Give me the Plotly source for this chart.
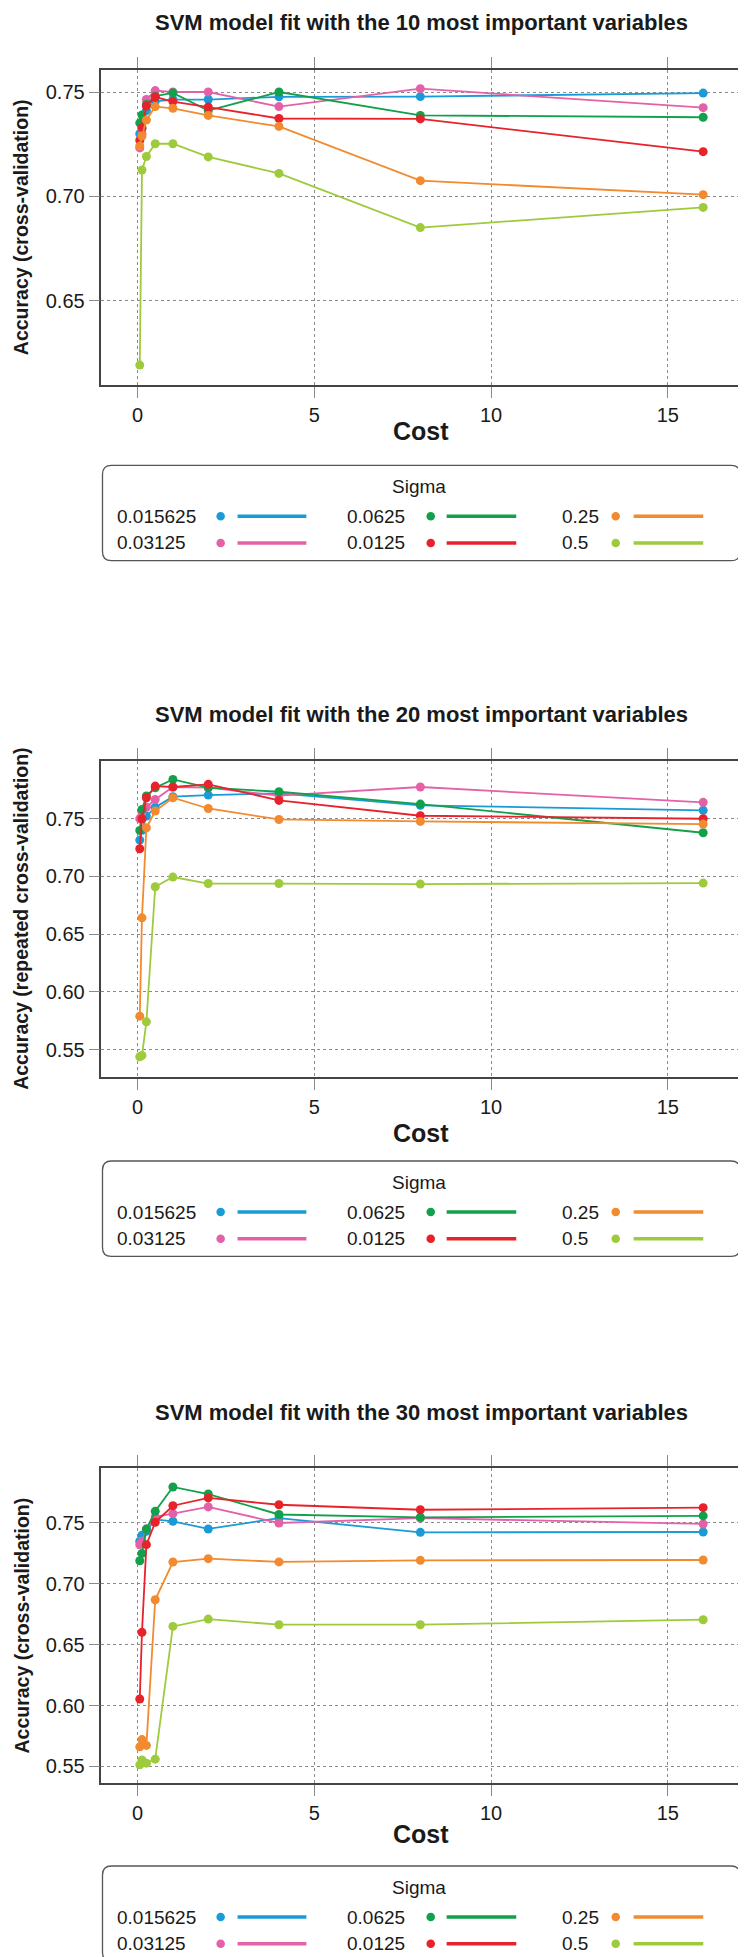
import plotly.graph_objects as go

# ---------------- data ----------------
cost = [0.0625, 0.125, 0.25, 0.5, 1, 2, 4, 8, 16]
sigma_labels = ["0.015625", "0.03125", "0.0625", "0.0125", "0.25", "0.5"]
colors = ["#1A9BD7", "#E461A8", "#13A04B", "#E8222B", "#F28A30", "#9DCB3C"]

titles = [
    "SVM model fit with the 10 most important variables",
    "SVM model fit with the 20 most important variables",
    "SVM model fit with the 30 most important variables",
]
ylabels = [
    "Accuracy (cross-validation)",
    "Accuracy (repeated cross-validation)",
    "Accuracy (cross-validation)",
]
xlabel = "Cost"
legend_title = "Sigma"

x_ticks = [0, 5, 10, 15]
y_ticks_1 = [0.65, 0.70, 0.75]
y_ticks_2 = [0.55, 0.60, 0.65, 0.70, 0.75]
y_ticks_3 = [0.55, 0.60, 0.65, 0.70, 0.75]

# accuracy, 10 variables
acc10_s015625 = [0.7300, 0.7325, 0.7411, 0.7455, 0.7464, 0.7464, 0.7477, 0.7478, 0.7495]
acc10_s03125 = [0.7232, 0.7300, 0.7464, 0.7507, 0.7500, 0.7500, 0.7430, 0.7516, 0.7425]
acc10_s0625 = [0.7352, 0.7390, 0.7440, 0.7480, 0.7496, 0.7411, 0.7500, 0.7388, 0.7379]
acc10_s0125 = [0.7268, 0.7329, 0.7433, 0.7476, 0.7454, 0.7428, 0.7373, 0.7371, 0.7214]
acc10_s25 = [0.7241, 0.7289, 0.7366, 0.7430, 0.7422, 0.7388, 0.7335, 0.7075, 0.7008]
acc10_s5 = [0.6191, 0.7126, 0.7191, 0.7252, 0.7252, 0.7189, 0.7110, 0.6850, 0.6947]

# accuracy, 20 variables
acc20_s015625 = [0.7315, 0.7400, 0.7523, 0.7600, 0.7691, 0.7705, 0.7720, 0.7616, 0.7573]
acc20_s03125 = [0.7500, 0.7550, 0.7600, 0.7667, 0.7775, 0.7769, 0.7700, 0.7775, 0.7642]
acc20_s0625 = [0.7399, 0.7581, 0.7697, 0.7769, 0.7841, 0.7769, 0.7734, 0.7627, 0.7379]
acc20_s0125 = [0.7240, 0.7500, 0.7682, 0.7783, 0.7775, 0.7798, 0.7659, 0.7526, 0.7500]
acc20_s25 = [0.5790, 0.6642, 0.7422, 0.7567, 0.7682, 0.7589, 0.7494, 0.7477, 0.7454]
acc20_s5 = [0.5438, 0.5450, 0.5741, 0.6911, 0.6995, 0.6939, 0.6939, 0.6934, 0.6943]

# accuracy, 30 variables
acc30_s015625 = [0.7350, 0.7400, 0.7432, 0.7530, 0.7514, 0.7451, 0.7540, 0.7423, 0.7426]
acc30_s03125 = [0.7322, 0.7350, 0.7450, 0.7550, 0.7577, 0.7632, 0.7500, 0.7540, 0.7492]
acc30_s0625 = [0.7190, 0.7250, 0.7450, 0.7596, 0.7796, 0.7738, 0.7570, 0.7547, 0.7558]
acc30_s0125 = [0.6053, 0.6601, 0.7322, 0.7506, 0.7642, 0.7706, 0.7650, 0.7609, 0.7626]
acc30_s25 = [0.5660, 0.5720, 0.5672, 0.6869, 0.7179, 0.7207, 0.7180, 0.7193, 0.7196]
acc30_s5 = [0.5512, 0.5553, 0.5526, 0.5559, 0.6650, 0.6710, 0.6664, 0.6664, 0.6705]

panels = [
    [acc10_s015625, acc10_s03125, acc10_s0625, acc10_s0125, acc10_s25, acc10_s5],
    [acc20_s015625, acc20_s03125, acc20_s0625, acc20_s0125, acc20_s25, acc20_s5],
    [acc30_s015625, acc30_s03125, acc30_s0625, acc30_s0125, acc30_s25, acc30_s5],
]
y_ticks = [y_ticks_1, y_ticks_2, y_ticks_3]

# ---------------- layout geometry (pixels) ----------------
W, H = 746, 1957
FONT = "Liberation Sans, Arial, Helvetica, sans-serif"
TXT = "#1a1a1a"
GRID = "#8a8a8a"

def px(x):
    return x / W

def py(y):
    return 1 - y / H

box_left, box_right = 94, 737.3
box_tb = [(61.7, 376.7), (752.7, 1069.0), (1460.0, 1775.0)]
y_ranges = [(0.6097, 0.7607), (0.5263, 0.8003), (0.5363, 0.7952)]
x_range = (-1.02, 17.08)
title_y = [10.0, 706.0, 1404.0]
cost_y = [423.0, 1124.7, 1826.3]
legend_top = [457.3, 1153.0, 1858.0]

fig = go.Figure()

for k in range(3):
    ax = "" if k == 0 else str(k + 1)
    for s in range(6):
        fig.add_trace(go.Scatter(
            x=cost, y=panels[k][s], mode="lines+markers",
            xaxis="x" + ax, yaxis="y" + ax,
            line=dict(color=colors[s], width=1.8),
            marker=dict(color=colors[s], size=9),
            showlegend=False, hoverinfo="skip",
        ))

axis_common = dict(
    showline=True, linecolor="#444444", linewidth=1.6, mirror="allticks",
    ticks="outside", ticklen=11, tickcolor=GRID, tickwidth=1,
    showgrid=True, gridcolor=GRID, gridwidth=1, griddash="3px,3px",
    zeroline=False, tickfont=dict(family=FONT, size=20, color=TXT),
)

layout = dict(
    width=W, height=H, margin=dict(l=0, r=0, t=0, b=0),
    paper_bgcolor="white", plot_bgcolor="white", showlegend=False,
)
for k in range(3):
    ax = "" if k == 0 else str(k + 1)
    top, bot = box_tb[k]
    layout["xaxis" + ax] = dict(
        axis_common, domain=[px(box_left), px(box_right)], range=list(x_range),
        tickvals=x_ticks, ticktext=[str(v) for v in x_ticks],
        anchor="y" + ax,
    )
    layout["yaxis" + ax] = dict(
        axis_common, domain=[py(bot), py(top)], range=list(y_ranges[k]),
        tickvals=y_ticks[k], ticktext=["%.2f" % v for v in y_ticks[k]],
        anchor="x" + ax,
    )
fig.update_layout(**layout)

annotations = []
shapes = []
for k in range(3):
    top, bot = box_tb[k]
    cx = (box_left + box_right) / 2
    if k == 0:
        annotations.append(dict(
            text="<b>%s</b>" % titles[k], x=px(cx), y=1.0,
            xref="paper", yref="paper", xanchor="center", yanchor="top",
            showarrow=False, font=dict(family=FONT, size=22, color=TXT)))
    else:
        annotations.append(dict(
            text="<b>%s</b>" % titles[k], x=px(cx), y=py(title_y[k]),
            xref="paper", yref="paper", xanchor="center", yanchor="middle",
            showarrow=False, font=dict(family=FONT, size=22, color=TXT)))
    annotations.append(dict(
        text="<b>%s</b>" % xlabel, x=px(cx), y=py(cost_y[k]),
        xref="paper", yref="paper", xanchor="center", yanchor="middle",
        showarrow=False, font=dict(family=FONT, size=25, color=TXT)))
    annotations.append(dict(
        text="<b>%s</b>" % ylabels[k], x=0.0, y=py((top + bot) / 2),
        xref="paper", yref="paper", xanchor="left", yanchor="middle",
        textangle=-90, showarrow=False,
        font=dict(family=FONT, size=19.5, color=TXT)))

    # legend box
    T = legend_top[k]
    L, R, B = 95, 736, T + 95.4
    r = 9
    path = ("M %f,%f L %f,%f Q %f,%f %f,%f L %f,%f Q %f,%f %f,%f "
            "L %f,%f Q %f,%f %f,%f L %f,%f Q %f,%f %f,%f Z") % (
        px(L + r), py(T), px(R - r), py(T), px(R), py(T), px(R), py(T + r),
        px(R), py(B - r), px(R), py(B), px(R - r), py(B),
        px(L + r), py(B), px(L), py(B), px(L), py(B - r),
        px(L), py(T + r), px(L), py(T), px(L + r), py(T))
    shapes.append(dict(type="path", path=path, xref="paper", yref="paper",
                       line=dict(color="#555555", width=1.3)))
    annotations.append(dict(
        text=legend_title, x=px(413.5), y=py(T + 21),
        xref="paper", yref="paper", xanchor="center", yanchor="middle",
        showarrow=False, font=dict(family=FONT, size=19, color=TXT)))
    label_x = [108.0, 338.5, 555.0]
    mark_x = [213.8, 425.0, 611.0]
    line_x = [(230.8, 300.0), (441.0, 511.0), (629.0, 699.0)]
    row_y = [T + 51, T + 77.7]
    for s in range(6):
        c, rr = s // 2, s % 2
        yy = row_y[rr]
        annotations.append(dict(
            text=sigma_labels[s], x=px(label_x[c]), y=py(yy),
            xref="paper", yref="paper", xanchor="left", yanchor="middle",
            showarrow=False, font=dict(family=FONT, size=19, color=TXT)))
        rad = 4.3
        shapes.append(dict(type="circle", xref="paper", yref="paper",
                           x0=px(mark_x[c] - rad), x1=px(mark_x[c] + rad),
                           y0=py(yy + rad), y1=py(yy - rad),
                           fillcolor=colors[s], line=dict(width=0)))
        shapes.append(dict(type="line", xref="paper", yref="paper",
                           x0=px(line_x[c][0]), x1=px(line_x[c][1]),
                           y0=py(yy), y1=py(yy),
                           line=dict(color=colors[s], width=3.5)))

fig.update_layout(annotations=annotations, shapes=shapes)
fig.write_html("out.html")
